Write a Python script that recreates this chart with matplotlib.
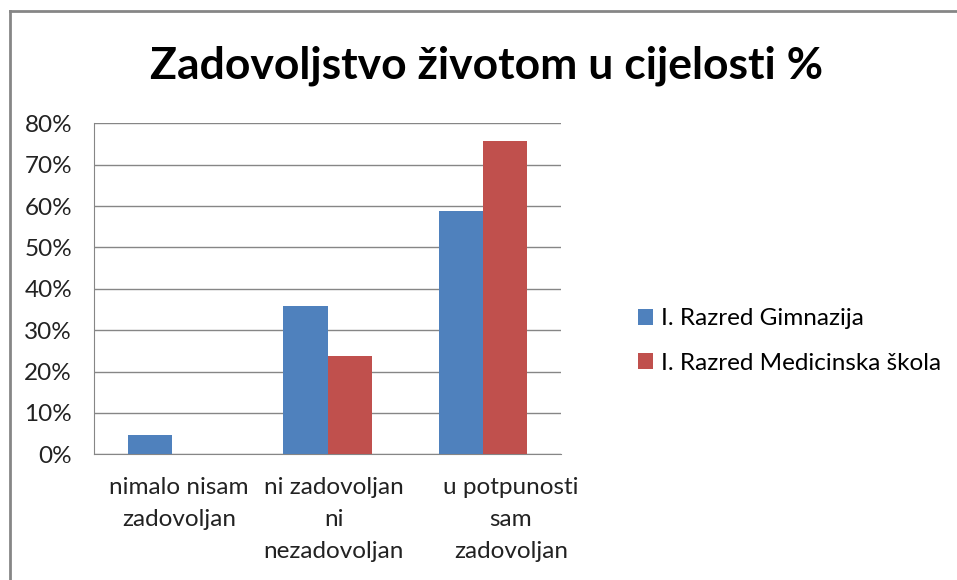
import numpy as np
import matplotlib
matplotlib.use("Agg")
import matplotlib.pyplot as plt
from matplotlib.lines import Line2D
from matplotlib.ticker import PercentFormatter

# DATA
categories = ["nimalo nisam\nzadovoljan", "ni zadovoljan\nni\nnezadovoljan", "u potpunosti\nsam\nzadovoljan"]
gimnazija = [4.7, 35.8, 58.9]
medicinska = [0, 23.8, 75.8]
series_names = ["I. Razred Gimnazija", "I. Razred Medicinska škola"]
title = "Zadovoljstvo životom u cijelosti %"

plt.rcParams['font.family'] = ['Lato', 'DejaVu Sans']

fig = plt.figure(figsize=(9.57, 5.8), dpi=100)
ax = fig.add_axes([0.0985, 0.2167, 0.4876, 0.5707])

# outer chart frame: only top and left edges are visible in the source
fx, fy = 9.5 / 957, 1 - 11 / 580
fig.add_artist(Line2D([fx, fx], [-0.05, fy], transform=fig.transFigure,
                      color="#868686", linewidth=2, solid_capstyle="projecting"))
fig.add_artist(Line2D([fx, 1.05], [fy, fy], transform=fig.transFigure,
                      color="#868686", linewidth=2, solid_capstyle="projecting"))

x = np.arange(len(categories))
w = 0.285
ax.bar(x - w/2, gimnazija, w, color="#4F81BD", label=series_names[0], zorder=3)
ax.bar(x + w/2, medicinska, w, color="#C0504D", label=series_names[1], zorder=3)

ax.set_xlim(-0.5, 2.5)
ax.set_ylim(0, 80)
ax.set_yticks(np.arange(0, 81, 10))
ax.yaxis.set_major_formatter(PercentFormatter(decimals=0))
ax.yaxis.grid(True, color="#868686", linewidth=1)
ax.set_axisbelow(True)
for s in ["top", "right"]:
    ax.spines[s].set_visible(False)
for s in ["left", "bottom"]:
    ax.spines[s].set_color("#868686")
ax.tick_params(axis="y", length=0, pad=16, labelsize=17.5, labelcolor="#222222")

# category labels (Excel nudges them a bit to the right, the last one more)
ax.set_xticks(x)
ax.set_xticklabels([])
ax.tick_params(axis="x", length=0)
label_shift = [5, 4.5, 20]  # points
for i, lab in enumerate(categories):
    ax.annotate(lab, xy=(x[i], 0), xycoords=("data", "axes fraction"),
                xytext=(label_shift[i], -16), textcoords="offset points",
                ha="center", va="top", fontsize=17.5, color="#222222",
                linespacing=1.65, multialignment="center")

fig.text(0.508, 0.887, title, ha="center", va="center", fontsize=32, fontweight="bold")

fig.legend(loc="center left", bbox_to_anchor=(638 / 957, 1 - 341 / 580), frameon=False,
           fontsize=17.5, borderpad=0, borderaxespad=0,
           handlelength=0.6, handleheight=0.6, handletextpad=0.35, labelspacing=0.95)

fig.savefig("out.png", dpi=100)
